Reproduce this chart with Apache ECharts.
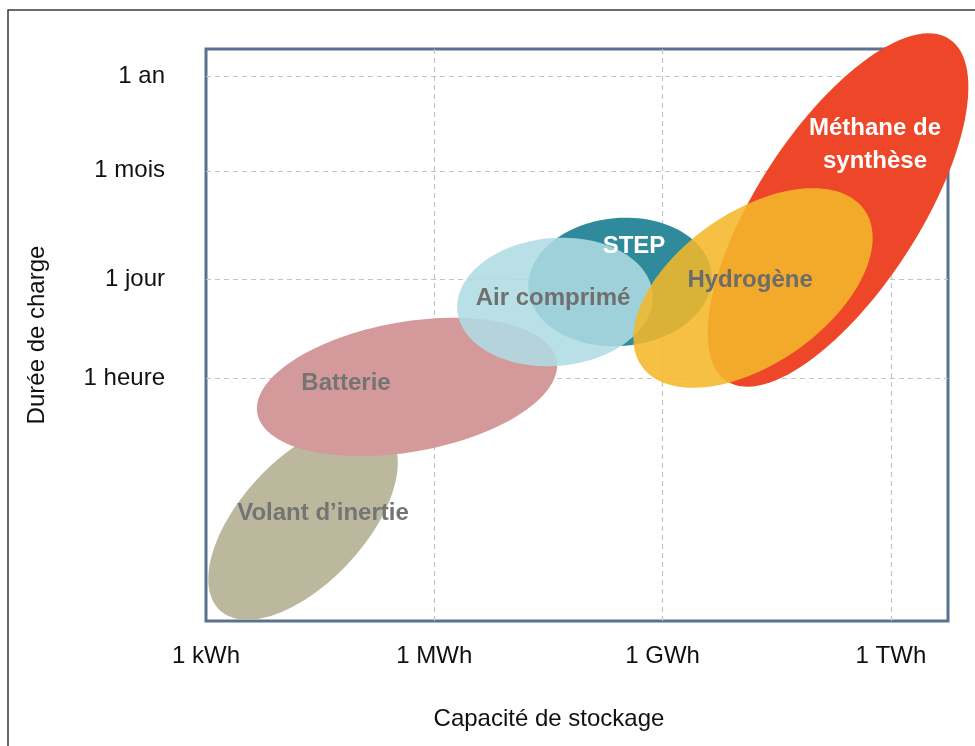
<!DOCTYPE html>
<html>
<head>
<meta charset="utf-8">
<script src="https://cdn.jsdelivr.net/npm/echarts@6/dist/echarts.min.js"></script>
<style>
html,body{margin:0;padding:0;background:#fff;}
#chart{width:975px;height:746px;}
</style>
</head>
<body>
<div id="chart"></div>
<script>
// Axis ticks (x: log10 of Wh; y: position rank of duration on the chart)
const xTickValues = [3, 6, 9, 12];
const xTickLabels = ['1 kWh', '1 MWh', '1 GWh', '1 TWh'];
const yTickValues = [4.25, 5.98, 7.87, 9.53];
const yTickLabels = ['1 heure', '1 jour', '1 mois', '1 an'];

// Technologies, in drawing order
const technologies = ['Volant d\u2019inertie', 'Batterie', 'STEP', 'Air comprimé', 'Méthane de\nsynthèse', 'Hydrogène'];
// ellipse centre [x, y]
const centers = [[4.275, 1.748], [5.641, 4.091], [8.440, 5.927], [7.586, 5.577], [11.305, 7.185], [10.188, 5.822]];
// end of the major semi-axis [x, y]
const majorEnds = [[5.368, 3.308], [7.608, 4.552], [9.644, 6.066], [8.869, 5.726], [12.766, 10.177], [11.652, 7.187]];
// end of the minor semi-axis [x, y]
const minorEnds = [[3.679, 2.488], [5.493, 5.210], [8.367, 7.042], [7.512, 6.691], [10.411, 7.956], [9.615, 6.909]];
// label anchor [x, y]
const labelPoints = [[4.537, 1.888], [4.840, 4.161], [8.624, 6.556], [7.560, 5.647], [11.791, 8.322], [10.149, 5.962]];

const fillColors = ['#bcb89e', '#d49a9b', '#2f8b9c', 'rgba(176,219,227,0.87)', '#ee4628', 'rgba(244,183,42,0.88)'];
const textColors = ['#747474', '#747474', '#ffffff', '#707070', '#ffffff', '#6c6c6c'];

const FONT = '"Liberation Sans", Arial, Helvetica, sans-serif';

const seriesData = technologies.map((name, i) => ({
  name: name,
  value: [centers[i][0], centers[i][1], majorEnds[i][0], majorEnds[i][1], minorEnds[i][0], minorEnds[i][1], labelPoints[i][0], labelPoints[i][1]]
}));

function renderEllipse(params, api) {
  const i = params.dataIndex;
  const c = api.coord([api.value(0), api.value(1)]);
  const a = api.coord([api.value(2), api.value(3)]);
  const b = api.coord([api.value(4), api.value(5)]);
  const l = api.coord([api.value(6), api.value(7)]);
  const ux = a[0] - c[0], uy = a[1] - c[1];
  const vx = b[0] - c[0], vy = b[1] - c[1];
  const pts = [];
  const N = 120;
  for (let k = 0; k < N; k++) {
    const t = (k / N) * Math.PI * 2;
    const ct = Math.cos(t), st = Math.sin(t);
    pts.push([c[0] + ct * ux + st * vx, c[1] + ct * uy + st * vy]);
  }
  return {
    type: 'group',
    children: [
      { type: 'polygon', shape: { points: pts }, style: { fill: fillColors[i] }, z2: i },
      { type: 'text', z2: 100,
        style: { text: technologies[i], x: l[0], y: l[1], fill: textColors[i],
          font: 'bold 24px ' + FONT, align: 'center', verticalAlign: 'middle', lineHeight: 33 } }
    ]
  };
}

const chart = echarts.init(document.getElementById('chart'), null, { renderer: 'canvas' });
chart.setOption({
  animation: false,
  backgroundColor: '#ffffff',
  graphic: [{
    type: 'rect', z: -10, silent: true,
    shape: { x: 8, y: 10, width: 1000, height: 800 },
    style: { fill: 'none', stroke: '#3a3a3a', lineWidth: 1.5 }
  }],
  grid: {
    left: 206, top: 49, width: 742, height: 572,
    show: true, borderColor: '#5a7191', borderWidth: 3, backgroundColor: 'transparent'
  },
  xAxis: {
    type: 'value', min: 3, max: 12.75, interval: 3,
    name: 'Capacité de stockage', nameLocation: 'middle', nameGap: 86,
    nameTextStyle: { fontFamily: FONT, fontSize: 24, color: '#111', padding: [0, 56, 0, 0] },
    axisLine: { show: false }, axisTick: { show: false },
    axisLabel: {
      customValues: xTickValues,
      margin: 23, fontFamily: FONT, fontSize: 24, color: '#111',
      formatter: v => { const k = xTickValues.indexOf(v); return k >= 0 ? xTickLabels[k] : ''; }
    },
    splitLine: { show: false }
  },
  yAxis: {
    type: 'value', min: 0, max: 10,
    name: 'Durée de charge', nameLocation: 'middle', nameGap: 157,
    nameTextStyle: { fontFamily: FONT, fontSize: 24, color: '#111' },
    axisLine: { show: false }, axisTick: { show: false },
    axisLabel: {
      customValues: yTickValues,
      margin: 41, fontFamily: FONT, fontSize: 24, color: '#111',
      formatter: v => { const k = yTickValues.indexOf(v); return k >= 0 ? yTickLabels[k] : ''; }
    },
    splitLine: { show: false }
  },
  series: [
    {
      type: 'line', data: [], z: 1, silent: true,
      markLine: {
        z: 1, silent: true, symbol: 'none', animation: false,
        label: { show: false },
        lineStyle: { type: [5, 4], color: '#c4c4c4', width: 1.2 },
        data: yTickValues.map(v => ({ yAxis: v }))
          .concat(xTickValues.filter(v => v > 3).map(v => ({ xAxis: v })))
      }
    },
    {
      type: 'custom', z: 2, silent: true,
      dimensions: ['cx', 'cy', 'ax', 'ay', 'bx', 'by', 'lx', 'ly'],
      encode: { x: 0, y: 1 },
      renderItem: renderEllipse,
      data: seriesData
    }
  ]
});
</script>
</body>
</html>
